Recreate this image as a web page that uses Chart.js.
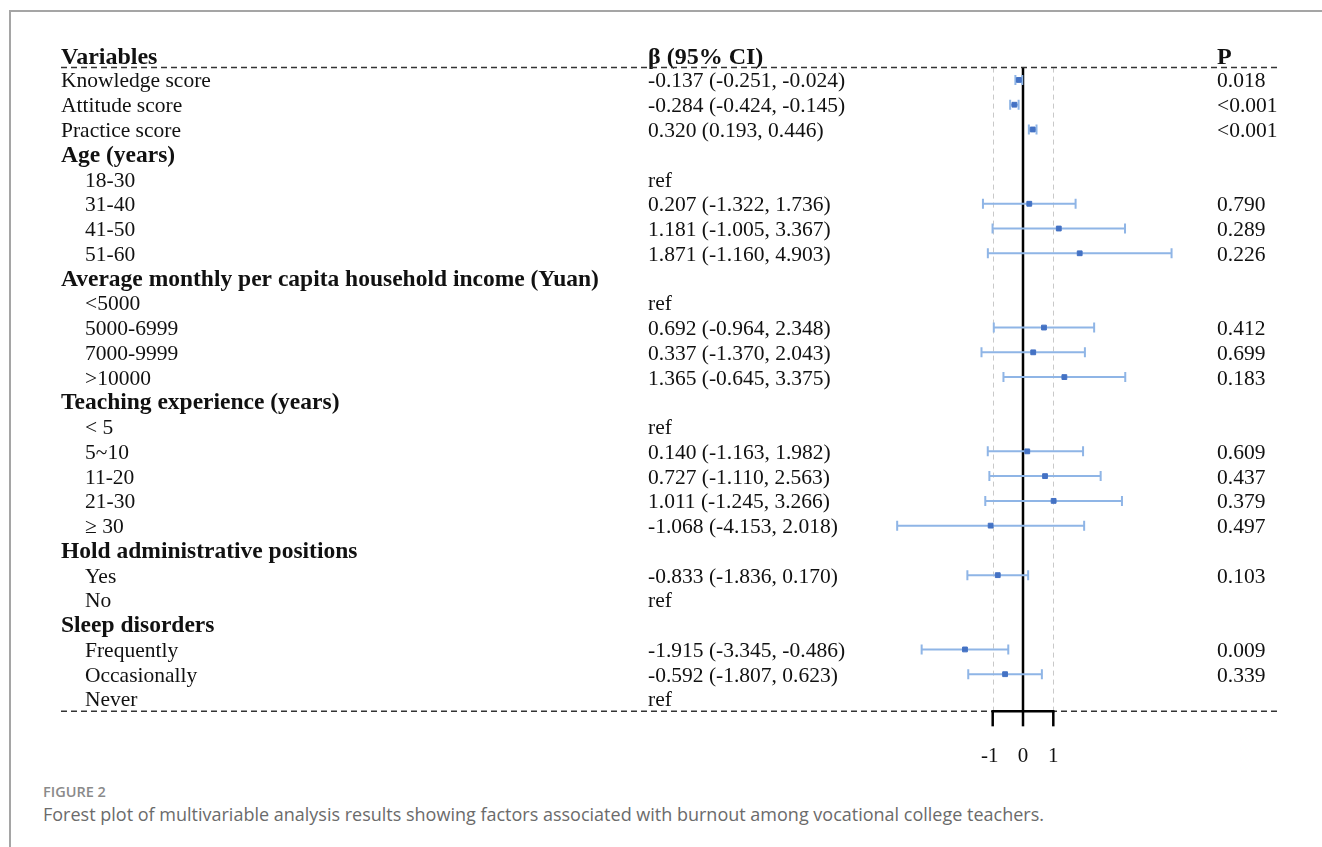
<!DOCTYPE html>
<html>
<head>
<meta charset="utf-8">
<script src="https://cdn.jsdelivr.net/npm/chart.js@4.4.1/dist/chart.umd.min.js"></script>
<style>
body{margin:0;background:#fff;}
#pagina{position:relative;width:1322px;height:847px;overflow:hidden;}
#marco{position:absolute;left:9px;top:10px;width:1400px;height:900px;border-top:2px solid #a5a5a5;border-left:2px solid #a5a5a5;}
#grafico{position:absolute;left:0;top:0;}
#figura{position:absolute;left:43px;top:782px;font-family:"Open Sans";font-weight:600;font-size:14.5px;color:#8a8a8a;}
#leyenda{position:absolute;left:43px;top:802px;font-family:"Open Sans";font-size:18px;color:#6b6b6b;}
</style>
</head>
<body>
<div id="pagina">
  <div id="marco"></div>
  <canvas id="grafico" width="1322" height="780"></canvas>
  <div id="figura">FIGURE 2</div>
  <div id="leyenda">Forest plot of multivariable analysis results showing factors associated with burnout among vocational college teachers.</div>
</div>
<script>
// Datos
const variables = ["Knowledge score", "Attitude score", "Practice score", "Age (years)", "18-30", "31-40", "41-50", "51-60",
  "Average monthly per capita household income (Yuan)", "<5000", "5000-6999", "7000-9999", ">10000",
  "Teaching experience (years)", "< 5", "5~10", "11-20", "21-30", "\u2265 30",
  "Hold administrative positions", "Yes", "No", "Sleep disorders", "Frequently", "Occasionally", "Never"];
// h = grupo (negrita), v = variable simple, s = subcategoría (con sangría)
const tipos = ["v", "v", "v", "h", "s", "s", "s", "s", "h", "s", "s", "s", "s", "h", "s", "s", "s", "s", "s", "h", "s", "s", "h", "s", "s", "s"];
const betas = [-0.137, -0.284, 0.320, null, null, 0.207, 1.181, 1.871, null, null, 0.692, 0.337, 1.365, null, null, 0.140, 0.727, 1.011, -1.068, null, -0.833, null, null, -1.915, -0.592, null];
const inferiores = [-0.251, -0.424, 0.193, null, null, -1.322, -1.005, -1.160, null, null, -0.964, -1.370, -0.645, null, null, -1.163, -1.110, -1.245, -4.153, null, -1.836, null, null, -3.345, -1.807, null];
const superiores = [-0.024, -0.145, 0.446, null, null, 1.736, 3.367, 4.903, null, null, 2.348, 2.043, 3.375, null, null, 1.982, 2.563, 3.266, 2.018, null, 0.170, null, null, -0.486, 0.623, null];
const valoresP = ["0.018", "<0.001", "<0.001", "", "", "0.790", "0.289", "0.226", "", "", "0.412", "0.699", "0.183", "", "", "0.609", "0.437", "0.379", "0.497", "", "0.103", "", "", "0.009", "0.339", ""];
const ticksX = [-1, 0, 1];
const encabezados = ["Variables", "\u03b2 (95% CI)", "P"];

const canvas = document.querySelector("#grafico");

// Texto de la columna beta
const textoBeta = (i) => {
    if (tipos[i] === "h") return "";
    if (betas[i] === null) return "ref";
    return `${betas[i].toFixed(3)} (${inferiores[i].toFixed(3)}, ${superiores[i].toFixed(3)})`;
};

const puntos = [];
betas.forEach((b, i) => { if (b !== null) puntos.push({ x: b, y: i + 1 }); });

const SERIF = '"Liberation Serif", "Times New Roman", serif';
const COL_VAR = 61, COL_SUB = 85, COL_BETA = 648, COL_P = 1217, LINEA_FIN = 1280;

const forestPlugin = {
    id: "forest",
    beforeDatasetsDraw(chart) {
        const { ctx, scales: { x, y } } = chart;
        const arriba = y.getPixelForValue(0.5), abajo = y.getPixelForValue(variables.length + 0.5);
        ctx.save();
        // lineas guia en -1 y 1
        ctx.strokeStyle = "#c9c9c9";
        ctx.lineWidth = 1;
        ctx.setLineDash([5, 4]);
        [-1, 1].forEach(v => {
            const px = Math.round(x.getPixelForValue(v)) + 0.5;
            ctx.beginPath(); ctx.moveTo(px, arriba); ctx.lineTo(px, abajo); ctx.stroke();
        });
        ctx.setLineDash([]);
        // linea de cero
        ctx.strokeStyle = "#000";
        ctx.lineWidth = 2.5;
        const x0 = x.getPixelForValue(0);
        ctx.beginPath(); ctx.moveTo(x0, arriba); ctx.lineTo(x0, abajo); ctx.stroke();
        // intervalos de confianza
        ctx.strokeStyle = "#8fb5e6";
        ctx.lineWidth = 2;
        betas.forEach((b, i) => {
            if (b === null) return;
            const py = y.getPixelForValue(i + 1);
            const a = x.getPixelForValue(inferiores[i]), c = x.getPixelForValue(superiores[i]);
            ctx.beginPath();
            ctx.moveTo(a, py); ctx.lineTo(c, py);
            ctx.moveTo(a, py - 5); ctx.lineTo(a, py + 5);
            ctx.moveTo(c, py - 5); ctx.lineTo(c, py + 5);
            ctx.stroke();
        });
        ctx.restore();
    },
    afterDatasetsDraw(chart) {
        const { ctx, scales: { x, y } } = chart;
        const arriba = y.getPixelForValue(0.5), abajo = y.getPixelForValue(variables.length + 0.5);
        ctx.save();
        ctx.fillStyle = "#111";
        ctx.textBaseline = "alphabetic";
        // encabezados
        ctx.font = `bold 24px ${SERIF}`;
        const yh = y.getPixelForValue(0) + 9;
        ctx.fillText(encabezados[0], COL_VAR, yh);
        ctx.fillText(encabezados[1], COL_BETA, yh);
        ctx.fillText(encabezados[2], COL_P, yh);
        // filas
        variables.forEach((nombre, i) => {
            const py = y.getPixelForValue(i + 1) + 7.5;
            if (tipos[i] === "h") {
                ctx.font = `bold 23.5px ${SERIF}`;
                ctx.fillText(nombre, COL_VAR, py);
                return;
            }
            ctx.font = `21.5px ${SERIF}`;
            ctx.fillText(nombre, tipos[i] === "s" ? COL_SUB : COL_VAR, py);
            ctx.fillText(textoBeta(i), COL_BETA, py);
            ctx.fillText(valoresP[i], COL_P, py);
        });
        // lineas discontinuas horizontales
        ctx.strokeStyle = "#333";
        ctx.lineWidth = 1.5;
        ctx.setLineDash([6, 4]);
        [arriba, abajo].forEach(py => {
            ctx.beginPath(); ctx.moveTo(COL_VAR, py); ctx.lineTo(LINEA_FIN, py); ctx.stroke();
        });
        ctx.setLineDash([]);
        // eje inferior
        ctx.strokeStyle = "#000";
        ctx.lineWidth = 2.5;
        const xi = x.getPixelForValue(ticksX[0]), xf = x.getPixelForValue(ticksX[ticksX.length - 1]);
        ctx.beginPath(); ctx.moveTo(xi - 1.2, abajo); ctx.lineTo(xf + 1.2, abajo); ctx.stroke();
        ctx.font = `21px ${SERIF}`;
        ctx.textAlign = "center";
        ticksX.forEach(t => {
            const px = x.getPixelForValue(t);
            ctx.beginPath(); ctx.moveTo(px, abajo); ctx.lineTo(px, abajo + 15); ctx.stroke();
            ctx.fillText(String(t), px - (t < 0 ? 3 : 0), abajo + 51);
        });
        ctx.restore();
    }
};

new Chart(canvas, {
    type: "scatter",
    data: { datasets: [{ data: puntos, pointStyle: "rect", pointRadius: 3.4, backgroundColor: "#4472c4", borderColor: "#4472c4", borderWidth: 1 }] },
    options: {
        responsive: false,
        devicePixelRatio: 1,
        animation: false,
        events: [],
        layout: { autoPadding: false, padding: { left: 61, right: 42, top: 42.82, bottom: 68.66 } },
        plugins: { legend: { display: false }, tooltip: { enabled: false } },
        scales: {
            x: { display: false, min: -31.75, max: 8.482 },
            y: { display: false, min: -0.5, max: variables.length + 0.5, reverse: true }
        }
    },
    plugins: [forestPlugin]
});
</script>
</body>
</html>
